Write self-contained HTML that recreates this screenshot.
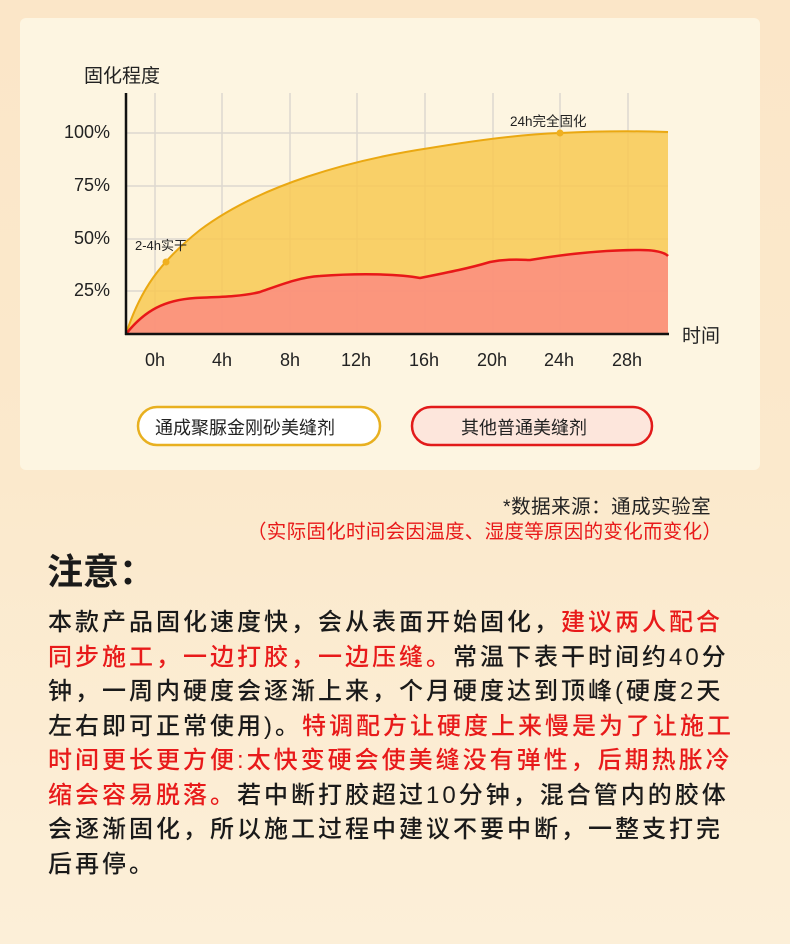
<!DOCTYPE html>
<html><head><meta charset="utf-8"><style>
html,body{margin:0;padding:0}
body{width:790px;height:944px;overflow:hidden;position:relative;font-family:"Liberation Sans","Noto Sans CJK SC",sans-serif;background:linear-gradient(180deg,#fbe6c8 0%,#fbe9cc 50%,#fcefd8 100%);}
.panel{position:absolute;left:20px;top:18px;width:740px;height:452px;background:#fdf5e1;border-radius:6px;}
.t{position:absolute;white-space:nowrap;}
.body{position:absolute;left:48px;top:606px;width:740px;font-size:24px;line-height:34.5px;color:#1a1a1a;letter-spacing:3px;white-space:nowrap;font-weight:500;}
.r{color:#e81a1a}
</style></head><body>
<div class="panel"></div>
<svg width="790" height="480" style="position:absolute;left:0;top:0" xmlns="http://www.w3.org/2000/svg">
<g stroke="#ddd8d0" stroke-width="1.5">
<line x1="155" y1="93" x2="155" y2="334"/><line x1="222" y1="93" x2="222" y2="334"/><line x1="290" y1="93" x2="290" y2="334"/><line x1="357" y1="93" x2="357" y2="334"/><line x1="425" y1="93" x2="425" y2="334"/><line x1="493" y1="93" x2="493" y2="334"/><line x1="560" y1="93" x2="560" y2="334"/><line x1="628" y1="93" x2="628" y2="334"/>
<line x1="126" y1="133" x2="668" y2="133"/><line x1="126" y1="186" x2="668" y2="186"/><line x1="126" y1="239" x2="668" y2="239"/><line x1="126" y1="291" x2="668" y2="291"/>
</g>
<path d="M126,334 C140,290 160,262 200,230 C260,185 350,160 430,148 C490,138 530,134 560,133 C600,131 640,131 668,132 L668,334 Z" fill="#f8c952" fill-opacity="0.85"/>
<path d="M126,334 C140,290 160,262 200,230 C260,185 350,160 430,148 C490,138 530,134 560,133 C600,131 640,131 668,132" fill="none" stroke="#eaa812" stroke-width="2"/>
<path d="M126,334 C145,310 165,300 195,298 C215,297 240,297 260,292 C280,285 300,277 320,276 C360,273 400,274 420,278 C450,272 470,268 490,262 C510,258 525,260 530,260 C560,255 600,250 640,250 C655,250 664,252 668,256 L668,334 Z" fill="#fb8f80" fill-opacity="0.9"/>
<path d="M126,334 C145,310 165,300 195,298 C215,297 240,297 260,292 C280,285 300,277 320,276 C360,273 400,274 420,278 C450,272 470,268 490,262 C510,258 525,260 530,260 C560,255 600,250 640,250 C655,250 664,252 668,256" fill="none" stroke="#e81818" stroke-width="2.5"/>
<circle cx="166" cy="262" r="3.5" fill="#f0b020"/><circle cx="560" cy="133" r="3.5" fill="#f0b020"/>
<line x1="126" y1="93" x2="126" y2="335" stroke="#111" stroke-width="2.5"/>
<line x1="125" y1="334" x2="669" y2="334" stroke="#111" stroke-width="2.5"/>
<rect x="138" y="407" width="242" height="38" rx="19" fill="#fff" stroke="#e8b020" stroke-width="2.5"/>
<rect x="412" y="407" width="240" height="38" rx="19" fill="#fde6dc" stroke="#e21a1a" stroke-width="2.5"/>
</svg>
<div class="t" style="left:84px;top:61px;font-size:19px;color:#222">固化程度</div>
<div class="t" style="left:64px;top:122px;font-size:18px;color:#222">100%</div>
<div class="t" style="left:74px;top:175px;font-size:18px;color:#222">75%</div>
<div class="t" style="left:74px;top:228px;font-size:18px;color:#222">50%</div>
<div class="t" style="left:74px;top:280px;font-size:18px;color:#222">25%</div>
<div class="t" style="left:135px;top:235px;font-size:13px;color:#222">2-4h实干</div>
<div class="t" style="left:510px;top:110px;font-size:13.5px;color:#222">24h完全固化</div>
<div class="t" style="left:682px;top:321px;font-size:19px;color:#222">时间</div>
<div class="t" style="left:145px;top:350px;font-size:18px;color:#222">0h</div>
<div class="t" style="left:212px;top:350px;font-size:18px;color:#222">4h</div>
<div class="t" style="left:280px;top:350px;font-size:18px;color:#222">8h</div>
<div class="t" style="left:341px;top:350px;font-size:18px;color:#222">12h</div>
<div class="t" style="left:409px;top:350px;font-size:18px;color:#222">16h</div>
<div class="t" style="left:477px;top:350px;font-size:18px;color:#222">20h</div>
<div class="t" style="left:544px;top:350px;font-size:18px;color:#222">24h</div>
<div class="t" style="left:612px;top:350px;font-size:18px;color:#222">28h</div>
<div class="t" style="left:155px;top:414px;font-size:18px;color:#222">通成聚脲金刚砂美缝剂</div>
<div class="t" style="left:461px;top:414px;font-size:18px;color:#222">其他普通美缝剂</div>
<div class="t" style="left:503px;top:490px;font-size:19.5px;letter-spacing:0.5px;color:#222">*数据来源：通成实验室</div>
<div class="t" style="left:247px;top:515px;font-size:19.5px;letter-spacing:0.3px;color:#e81a1a">（实际固化时间会因温度、湿度等原因的变化而变化）</div>
<div class="t" style="left:47px;top:543px;font-size:36px;font-weight:bold;color:#1a1a1a">注意：</div>
<div class="body">本款产品固化速度快，会从表面开始固化，<span class="r">建议两人配合</span><br><span class="r">同步施工，一边打胶，一边压缝。</span>常温下表干时间约40分<br>钟，一周内硬度会逐渐上来，个月硬度达到顶峰(硬度2天<br>左右即可正常使用)。<span class="r">特调配方让硬度上来慢是为了让施工</span><br><span class="r">时间更长更方便:太快变硬会使美缝没有弹性，后期热胀冷</span><br><span class="r">缩会容易脱落。</span>若中断打胶超过10分钟，混合管内的胶体<br>会逐渐固化，所以施工过程中建议不要中断，一整支打完<br>后再停。</div>
</body></html>
